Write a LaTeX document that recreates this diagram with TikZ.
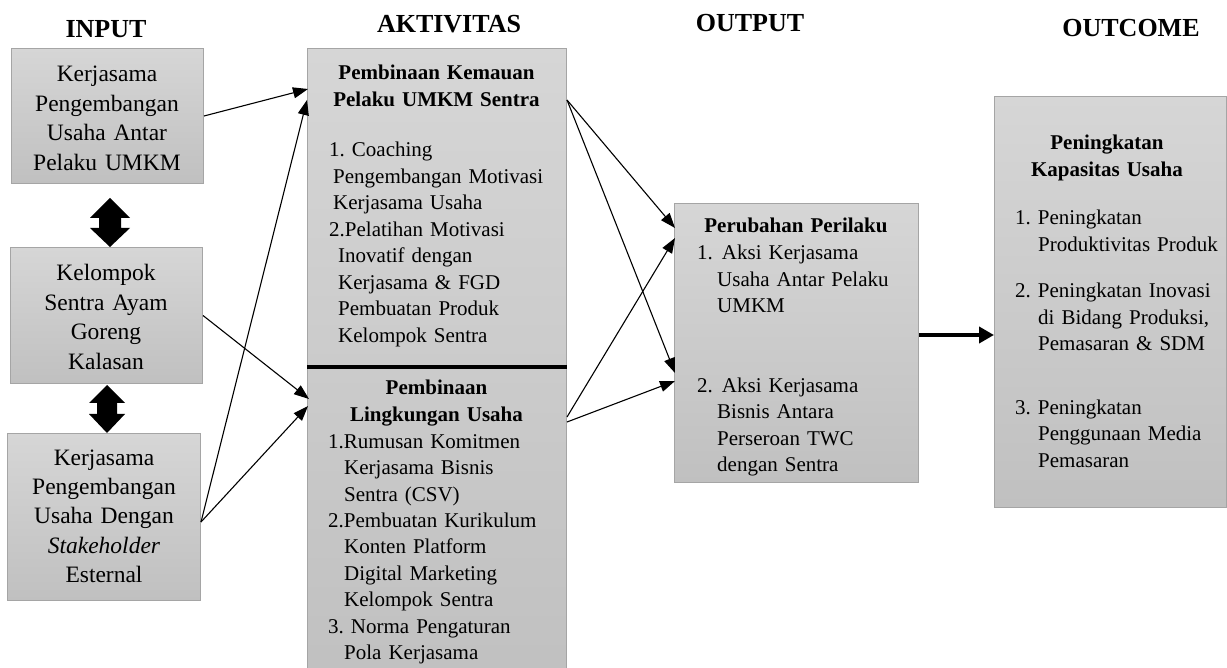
\documentclass[tikz,border=0pt]{standalone}
\usepackage{fontspec}
\setmainfont{Liberation Serif}
\usetikzlibrary{arrows.meta,calc}
\frenchspacing
\definecolor{boxtop}{RGB}{214,214,214}
\definecolor{boxbot}{RGB}{192,192,192}
\definecolor{boxline}{RGB}{165,165,165}
\tikzset{
  box/.style={draw=boxline, line width=1pt, top color=boxtop, bottom color=boxbot, inner sep=0pt, anchor=north west},
  hdr/.style={font=\fontsize{26}{30}\selectfont\bfseries, inner sep=0pt, anchor=base},
  intext/.style={font=\fontsize{23.5}{29.4}\selectfont, inner sep=0pt, anchor=base, align=center, text width=190pt},
  ttl/.style={font=\fontsize{21}{26.3}\selectfont\bfseries, inner sep=0pt, anchor=base, align=center, text width=240pt},
  lst/.style={font=\fontsize{21}{26.5}\selectfont, inner sep=0pt, anchor=base west, align=left, text width=240pt},
  conn/.style={line width=1.1pt, -{Triangle[length=15pt,width=11pt]}},
  bigconn/.style={line width=4pt, -{Triangle[length=15pt,width=16pt]}},
  dblarrow/.style={fill=black},
}
\begin{document}
\begin{tikzpicture}[x=1pt,y=-1pt]
\useasboundingbox (0,0) rectangle (1227,668);
\begin{scope}
\clip (0,0) rectangle (1227,668);

% headers
\node[hdr] (hin) at (106,38) {INPUT};
\node[hdr] (hakt) at (449,33) {AKTIVITAS};
\node[hdr] (hout) at (750,32) {OUTPUT};
\node[hdr] (hoc) at (1131,37) {OUTCOME};

% boxes
\node[box, minimum width=192pt, minimum height=135pt] (in1) at (11,48) {};
\node[box, minimum width=192pt, minimum height=136pt] (in2) at (10,247) {};
\node[box, minimum width=193pt, minimum height=167pt] (in3) at (7,433) {};
\node[box, minimum width=259pt, minimum height=640pt] (act) at (307,48) {};
\node[box, minimum width=244pt, minimum height=279pt] (out) at (674,203) {};
\node[box, minimum width=232pt, minimum height=411pt] (outc) at (994,96) {};

% divider in activity box
\draw[line width=3.5pt] ($(act.north west)+(0,319)$) -- ($(act.north east)+(0,319)$);

% input texts
\node[intext] (tin1) at (107,82) {Kerjasama\\Pengembangan\\Usaha Antar\\Pelaku UMKM};
\node[intext] (tin2) at (106,281) {Kelompok\\Sentra Ayam\\Goreng\\Kalasan};
\node[intext] (tin3) at (104,465) {Kerjasama\\Pengembangan\\Usaha Dengan\\\textit{Stakeholder}\\Esternal};

% activity texts
\node[ttl] (tact1) at (436.5,80) {Pembinaan Kemauan\\Pelaku UMKM Sentra};
\node[lst] (lact1) at (329,157) {1. Coaching\\
\hspace*{4pt}Pengembangan Motivasi\\
\hspace*{4pt}Kerjasama Usaha\\
2.Pelatihan Motivasi\\
\hspace*{9pt}Inovatif dengan\\
\hspace*{9pt}Kerjasama \& FGD\\
\hspace*{9pt}Pembuatan Produk\\
\hspace*{9pt}Kelompok Sentra};
\node[ttl] (tact2) at (436.5,395) {Pembinaan\\Lingkungan Usaha};
\node[lst] (lact2) at (328,448) {1.Rumusan Komitmen\\
\hspace*{16pt}Kerjasama Bisnis\\
\hspace*{16pt}Sentra (CSV)\\
2.Pembuatan Kurikulum\\
\hspace*{16pt}Konten Platform\\
\hspace*{16pt}Digital Marketing\\
\hspace*{16pt}Kelompok Sentra\\
3. Norma Pengaturan\\
\hspace*{16pt}Pola Kerjasama};

% output texts
\node[ttl] (tout) at (796,233) {Perubahan Perilaku};
\begin{scope}
\clip (674,203) rectangle (918,477);
\node[lst] (lout) at (697,260) {1.\hspace{9pt}Aksi Kerjasama\\
\hspace*{20pt}Usaha Antar Pelaku\\
\hspace*{20pt}UMKM\\
\mbox{}\\
\mbox{}\\
2.\hspace{9pt}Aksi Kerjasama\\
\hspace*{20pt}Bisnis Antara\\
\hspace*{20pt}Perseroan TWC\\
\hspace*{20pt}dengan Sentra};
\end{scope}

% outcome texts
\node[ttl] (toc) at (1107,150) {Peningkatan\\Kapasitas Usaha};
\node[lst] (loc) at (1015,225) {1.\hspace{7pt}Peningkatan\\
\hspace*{23pt}Produktivitas Produk\\[20pt]
2.\hspace{7pt}Peningkatan Inovasi\\
\hspace*{23pt}di Bidang Produksi,\\
\hspace*{23pt}Pemasaran \& SDM\\[37pt]
3.\hspace{7pt}Peningkatan\\
\hspace*{23pt}Penggunaan Media\\
\hspace*{23pt}Pemasaran};

% double arrows between input boxes
\fill[dblarrow] (110,198) -- (130,218) -- (121,218) -- (121,228) -- (130,228) -- (110,247)
  -- (90,228) -- (99,228) -- (99,218) -- (90,218) -- cycle;
\fill[dblarrow] (107,385) -- (125,403) -- (117,403) -- (117,414) -- (125,414) -- (107,433)
  -- (89,414) -- (97,414) -- (97,403) -- (89,403) -- cycle;

% connectors input -> activity
\draw[conn] (in1.east) -- ($(act.north west)+(1,41)$);
\draw[conn] ($(in3.north east)+(0,89)$) -- ($(act.north west)+(0,52)$);
\draw[conn] (in2.east) -- ($(act.north west)+(2,351)$);
\draw[conn] ($(in3.north east)+(0,89)$) -- ($(act.north west)+(1,358)$);

% connectors activity -> output
\draw[conn] ($(act.north east)+(0,52)$) -- ($(out.north west)+(1,25)$);
\draw[conn] ($(act.north east)+(0,52)$) -- ($(out.north west)+(1,170)$);
\draw[conn] ($(act.north east)+(0,369)$) -- ($(out.north west)+(1,35)$);
\draw[conn] ($(act.north east)+(0,374)$) -- ($(out.north west)+(1,178)$);

% output -> outcome
\draw[bigconn] ($(out.north east)+(0,132)$) -- ($(outc.north west)+(0,239)$);
\end{scope}
\end{tikzpicture}
\end{document}
